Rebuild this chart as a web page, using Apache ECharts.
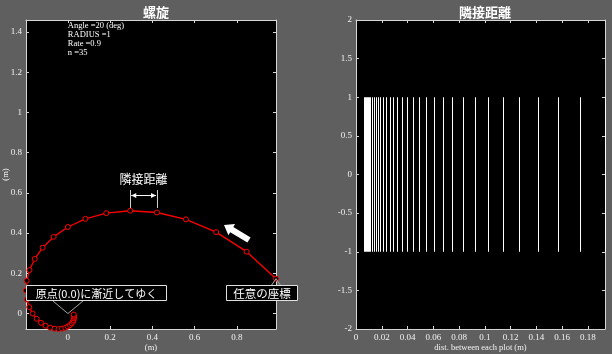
<!DOCTYPE html>
<html><head><meta charset="utf-8">
<script src="https://cdn.jsdelivr.net/npm/echarts@6/dist/echarts.min.js"></script>
<style>html,body{margin:0;padding:0;background:#5f5f5f;}#c{width:612px;height:354px;}</style>
</head><body><div id="c"></div>
<script>
// ---- data ----
const spiralX = [0.9848, 0.8457, 0.7015, 0.5584, 0.4217, 0.2952, 0.1818, 0.0831, 0.0000, -0.0673,
  -0.1193, -0.1569, -0.1815, -0.1947, -0.1981, -0.1935, -0.1825, -0.1668, -0.1478, -0.1269,
  -0.1053, -0.0838, -0.0633, -0.0443, -0.0273, -0.0125, 0.0000, 0.0101, 0.0179, 0.0236,
  0.0272, 0.0292, 0.0297, 0.0290, 0.0274];
const spiralY = [0.1736, 0.3078, 0.4050, 0.4686, 0.5026, 0.5114, 0.4994, 0.4710, 0.4305, 0.3815,
  0.3276, 0.2718, 0.2164, 0.1634, 0.1144, 0.0704, 0.0322, 0.0000, -0.0261, -0.0462,
  -0.0608, -0.0703, -0.0754, -0.0768, -0.0750, -0.0707, -0.0646, -0.0573, -0.0492, -0.0408,
  -0.0325, -0.0245, -0.0172, -0.0106, -0.0048];
const distances = [0.1933, 0.1739, 0.1565, 0.1409, 0.1268, 0.1141, 0.1027, 0.0924, 0.0832, 0.0749,
  0.0674, 0.0606, 0.0546, 0.0491, 0.0442, 0.0398, 0.0358, 0.0322, 0.0290, 0.0261,
  0.0235, 0.0211, 0.0190, 0.0171, 0.0154, 0.0139, 0.0125, 0.0112, 0.0101, 0.0091,
  0.0082, 0.0074, 0.0066, 0.0060];
const stemLow = -1, stemHigh = 1;
const leftXTicks = [0, 0.2, 0.4, 0.6, 0.8];
const leftYTicks = [0, 0.2, 0.4, 0.6, 0.8, 1, 1.2, 1.4];
const rightXTicks = [0, 0.02, 0.04, 0.06, 0.08, 0.1, 0.12, 0.14, 0.16, 0.18];
const rightYTicks = [-2, -1.5, -1, -0.5, 0, 0.5, 1, 1.5, 2];
const leftXRange = [-0.1981, 0.9848];
const leftYRange = [-0.0768, 1.46];
const rightXRange = [0, 0.1933];
const rightYRange = [-2, 2];
const infoLines = ['Angle =20 (deg)', 'RADIUS =1', 'Rate =0.9', 'n =35'];
const titles = ['螺旋', '隣接距離'];
const axisNames = ['(m)', '(m)', 'dist. between each plot (m)'];
const noteDist = '隣接距離';
const noteOrigin = '原点(0.0)に漸近してゆく';
const noteStart = '任意の座標';

// ---- styling ----
const serif = '"Liberation Serif","DejaVu Serif",serif';
const cjk = '"Noto Sans CJK JP","Noto Sans CJK SC",sans-serif';
const lineCol = '#d6d6d6';
const txtCol = '#f2f2f2';

function axis(opts) {
  const { pos, range, ticks, labels, grid, name, nameGap, nameRotate } = opts;
  return {
    type: 'value', gridIndex: grid, position: pos, min: range[0], max: range[1],
    name: name || '', nameLocation: 'middle', nameGap: nameGap || 0, nameRotate: nameRotate || 0,
    nameMoveOverlap: false,
    nameTextStyle: { color: txtCol, fontFamily: serif, fontSize: 8.5 },
    axisLine: { show: true, onZero: false, lineStyle: { color: lineCol, width: 1 } },
    axisTick: { show: true, inside: true, length: 3, customValues: ticks, lineStyle: { color: lineCol } },
    axisLabel: { show: labels, customValues: ticks, color: txtCol, fontFamily: serif, fontSize: 9,
      margin: 4 },
    splitLine: { show: false }
  };
}

const chart = echarts.init(document.getElementById('c'), null, { renderer: 'canvas' });
chart.setOption({
  backgroundColor: '#5f5f5f',
  animation: false,
  title: [
    { text: titles[0], left: 151, top: 1, textAlign: 'center',
      textStyle: { color: '#ffffff', fontFamily: cjk, fontSize: 13, fontWeight: 'bold' } },
    { text: titles[1], left: 480, top: 1, textAlign: 'center',
      textStyle: { color: '#ffffff', fontFamily: cjk, fontSize: 13, fontWeight: 'bold' } }
  ],
  grid: [
    { left: 26, top: 20, width: 250, height: 309, backgroundColor: '#000', show: true, borderWidth: 0,
      containLabel: false, outerBoundsMode: 'none' },
    { left: 356, top: 20, width: 249, height: 309, backgroundColor: '#000', show: true, borderWidth: 0,
      containLabel: false, outerBoundsMode: 'none' }
  ],
  xAxis: [
    axis({ pos: 'bottom', range: leftXRange, ticks: leftXTicks, labels: true, grid: 0, name: axisNames[0], nameGap: 14 }),
    axis({ pos: 'top', range: leftXRange, ticks: leftXTicks, labels: false, grid: 0 }),
    axis({ pos: 'bottom', range: rightXRange, ticks: rightXTicks, labels: true, grid: 1, name: axisNames[2], nameGap: 14 }),
    axis({ pos: 'top', range: rightXRange, ticks: rightXTicks, labels: false, grid: 1 })
  ],
  yAxis: [
    axis({ pos: 'left', range: leftYRange, ticks: leftYTicks, labels: true, grid: 0, name: axisNames[1], nameGap: 16, nameRotate: 90 }),
    axis({ pos: 'right', range: leftYRange, ticks: leftYTicks, labels: false, grid: 0 }),
    axis({ pos: 'left', range: rightYRange, ticks: rightYTicks, labels: true, grid: 1 }),
    axis({ pos: 'right', range: rightYRange, ticks: rightYTicks, labels: false, grid: 1 })
  ],
  series: [
    {
      type: 'line', xAxisIndex: 0, yAxisIndex: 0,
      data: spiralX.map((x, i) => [x, spiralY[i]]),
      symbol: 'circle', symbolSize: 5, clip: false,
      lineStyle: { color: '#ff0000', width: 1.3 },
      itemStyle: { color: '#000000', borderColor: '#ff0000', borderWidth: 1 }
    },
    {
      type: 'custom', xAxisIndex: 2, yAxisIndex: 2,
      data: distances.map(d => [d, stemLow, stemHigh]),
      renderItem: function (params, api) {
        const p1 = api.coord([api.value(0), api.value(1)]);
        const p2 = api.coord([api.value(0), api.value(2)]);
        return { type: 'line', shape: { x1: Math.round(p1[0]) + 0.5, y1: p1[1], x2: Math.round(p2[0]) + 0.5, y2: p2[1] },
          style: { stroke: '#ffffff', lineWidth: 1 } };
      }
    }
  ]
});

// ---- annotations anchored to the data ----
const toPx = (x, y) => chart.convertToPixel({ gridIndex: 0 }, [x, y]);
const o = toPx(0, 0);
const s0 = toPx(spiralX[0], spiralY[0]);
const pa = toPx(spiralX[5], spiralY[5]);
const pb = toPx(spiralX[4], spiralY[4]);
const topLeft = toPx(0, leftYRange[1]);
const ay = 195;
const g = [];
// info text
g.push({ type: 'text', x: topLeft[0], y: 21.5, z: 10,
  style: { text: infoLines.join('\n'), fill: '#ffffff', font: '8.5px ' + serif, lineHeight: 9 } });
// distance annotation
g.push({ type: 'line', shape: { x1: Math.round(pa[0]) + 0.5, y1: 190, x2: Math.round(pa[0]) + 0.5, y2: 208 }, style: { stroke: '#cfcfcf', lineWidth: 1 }, z: 10 });
g.push({ type: 'line', shape: { x1: Math.round(pb[0]) + 0.5, y1: 190, x2: Math.round(pb[0]) + 0.5, y2: 208 }, style: { stroke: '#cfcfcf', lineWidth: 1 }, z: 10 });
g.push({ type: 'line', shape: { x1: pa[0] + 1, y1: ay + 0.5, x2: pb[0] - 1, y2: ay + 0.5 }, style: { stroke: '#ffffff', lineWidth: 1 }, z: 10 });
g.push({ type: 'polygon', shape: { points: [[pa[0] + 1, ay + 0.5], [pa[0] + 6, ay - 2], [pa[0] + 6, ay + 3]] }, style: { fill: '#ffffff' }, z: 10 });
g.push({ type: 'polygon', shape: { points: [[pb[0] - 1, ay + 0.5], [pb[0] - 6, ay - 2], [pb[0] - 6, ay + 3]] }, style: { fill: '#ffffff' }, z: 10 });
g.push({ type: 'text', x: (pa[0] + pb[0]) / 2, y: 179, z: 10,
  style: { text: noteDist, fill: '#ffffff', font: '12px ' + cjk, align: 'center', verticalAlign: 'middle' } });
// thick arrow
g.push({ type: 'polygon', z: 10, shape: { points: [[250.6, 237.4], [233.3, 227.0], [235.1, 224.0], [224, 225], [228.4, 235.2], [230.2, 232.2], [247.4, 242.6]] },
  style: { fill: '#ffffff' } });
// origin callout
g.push({ type: 'polyline', z: 10, shape: { points: [[53, 301], [o[0], o[1]], [83, 301]] }, style: { stroke: '#a8a8a8', lineWidth: 1, fill: null } });
g.push({ type: 'rect', z: 11, shape: { x: 26.5, y: 285.5, width: 140, height: 15 }, style: { fill: '#000', stroke: '#e0e0e0', lineWidth: 1 } });
g.push({ type: 'text', z: 12, x: 96.5, y: 293.5, style: { text: noteOrigin, fill: '#ffffff', font: '11px ' + cjk, align: 'center', verticalAlign: 'middle' } });
// start callout
g.push({ type: 'polyline', z: 10, shape: { points: [[271, 286], [s0[0], s0[1]], [281, 286]] }, style: { stroke: '#a8a8a8', lineWidth: 1, fill: null } });
g.push({ type: 'rect', z: 11, shape: { x: 226.5, y: 285.5, width: 71, height: 15 }, style: { fill: '#000', stroke: '#e0e0e0', lineWidth: 1 } });
g.push({ type: 'text', z: 12, x: 262, y: 293.5, style: { text: noteStart, fill: '#ffffff', font: '11.5px ' + cjk, align: 'center', verticalAlign: 'middle' } });
chart.setOption({ graphic: g });
</script>
</body></html>
